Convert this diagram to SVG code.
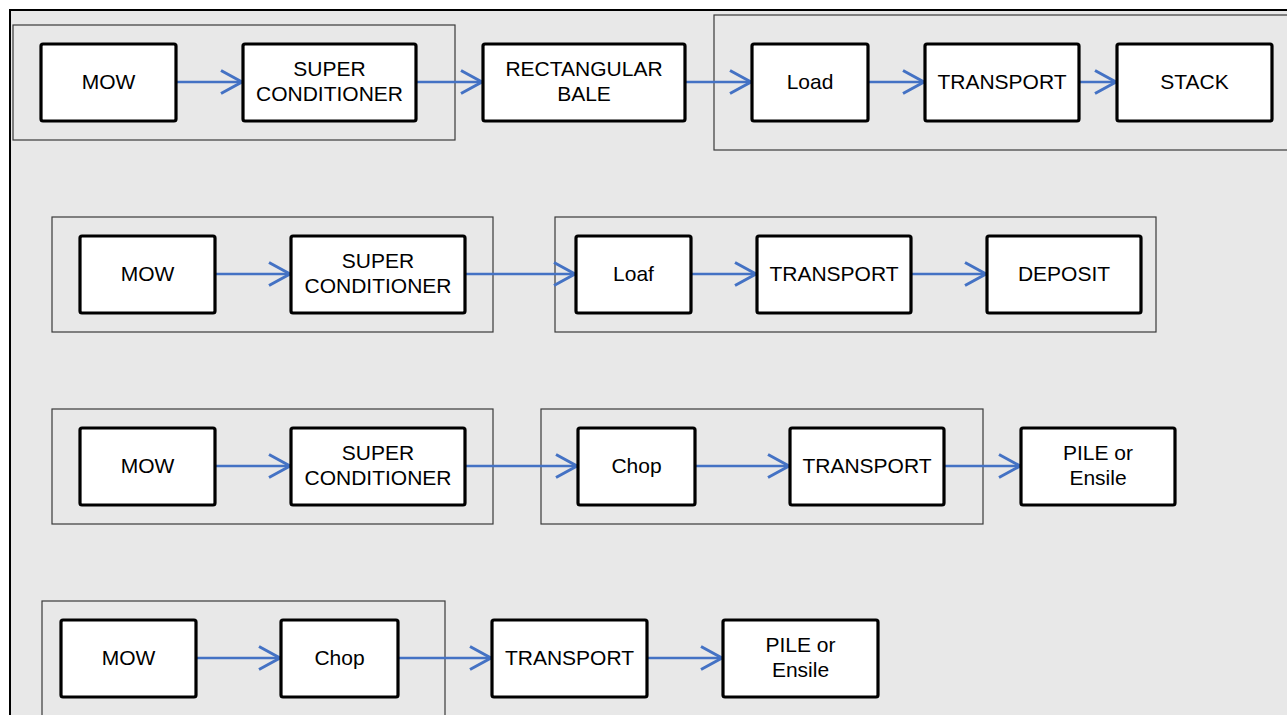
<svg xmlns="http://www.w3.org/2000/svg" width="1287" height="715" viewBox="0 0 1287 715">
<style>
.frame{fill:#e8e8e8;stroke:#000;stroke-width:2}
.grp{fill:none;stroke:#3a3a3a;stroke-width:1.2}
.node rect{fill:#fff;stroke:#000;stroke-width:3.2}
.node text{font-family:"Liberation Sans",Arial,sans-serif;font-size:21px;fill:#000;text-anchor:middle}
.conn{stroke:#4472c4;stroke-width:2.6;fill:none;marker-end:url(#arr)}
</style>
<defs>
<marker id="arr" markerUnits="userSpaceOnUse" markerWidth="26" markerHeight="28" refX="23" refY="13" orient="auto">
<path d="M1,1.5 L22,13 L1,24.5" fill="none" stroke="#4472c4" stroke-width="3"/>
</marker>
</defs>
<rect x="0" y="0" width="1287" height="715" fill="#fff"/>
<rect class="frame" x="10" y="10" width="1290" height="720"/>
<g id="groups">
<rect class="grp" x="13" y="25" width="442" height="115"/>
<rect class="grp" x="714" y="15" width="580" height="135"/>
<rect class="grp" x="52" y="217" width="441" height="115"/>
<rect class="grp" x="555" y="217" width="601" height="115"/>
<rect class="grp" x="52" y="409" width="441" height="115"/>
<rect class="grp" x="541" y="409" width="442" height="115"/>
<rect class="grp" x="42" y="601" width="403" height="130"/>
</g>
<g id="connectors">
<line class="conn" x1="176" y1="82" x2="243" y2="82"/>
<line class="conn" x1="416" y1="82" x2="483" y2="82"/>
<line class="conn" x1="685" y1="82" x2="752" y2="82"/>
<line class="conn" x1="868" y1="82" x2="925" y2="82"/>
<line class="conn" x1="1079" y1="82" x2="1117" y2="82"/>
<line class="conn" x1="215" y1="274" x2="291" y2="274"/>
<line class="conn" x1="465" y1="274" x2="576" y2="274"/>
<line class="conn" x1="691" y1="274" x2="757" y2="274"/>
<line class="conn" x1="911" y1="274" x2="987" y2="274"/>
<line class="conn" x1="215" y1="466" x2="291" y2="466"/>
<line class="conn" x1="465" y1="466" x2="578" y2="466"/>
<line class="conn" x1="695" y1="466" x2="790" y2="466"/>
<line class="conn" x1="944" y1="466" x2="1021" y2="466"/>
<line class="conn" x1="196" y1="658" x2="281" y2="658"/>
<line class="conn" x1="398" y1="658" x2="492" y2="658"/>
<line class="conn" x1="647" y1="658" x2="723" y2="658"/>
</g>
<g id="r1-mow" class="node"><rect x="41" y="44" width="135" height="77" rx="2"/><text x="108.5" y="89">MOW</text></g>
<g id="r1-super" class="node"><rect x="243" y="44" width="173" height="77" rx="2"/><text x="329.5" y="76">SUPER</text><text x="329.5" y="101">CONDITIONER</text></g>
<g id="r1-bale" class="node"><rect x="483" y="44" width="202" height="77" rx="2"/><text x="584" y="76">RECTANGULAR</text><text x="584" y="101">BALE</text></g>
<g id="r1-load" class="node"><rect x="752" y="44" width="116" height="77" rx="2"/><text x="810" y="89">Load</text></g>
<g id="r1-transport" class="node"><rect x="925" y="44" width="154" height="77" rx="2"/><text x="1002" y="89">TRANSPORT</text></g>
<g id="r1-stack" class="node"><rect x="1117" y="44" width="155" height="77" rx="2"/><text x="1194.5" y="89">STACK</text></g>
<g id="r2-mow" class="node"><rect x="80" y="236" width="135" height="77" rx="2"/><text x="147.5" y="281">MOW</text></g>
<g id="r2-super" class="node"><rect x="291" y="236" width="174" height="77" rx="2"/><text x="378" y="268">SUPER</text><text x="378" y="293">CONDITIONER</text></g>
<g id="r2-loaf" class="node"><rect x="576" y="236" width="115" height="77" rx="2"/><text x="633.5" y="281">Loaf</text></g>
<g id="r2-transport" class="node"><rect x="757" y="236" width="154" height="77" rx="2"/><text x="834" y="281">TRANSPORT</text></g>
<g id="r2-deposit" class="node"><rect x="987" y="236" width="154" height="77" rx="2"/><text x="1064" y="281">DEPOSIT</text></g>
<g id="r3-mow" class="node"><rect x="80" y="428" width="135" height="77" rx="2"/><text x="147.5" y="473">MOW</text></g>
<g id="r3-super" class="node"><rect x="291" y="428" width="174" height="77" rx="2"/><text x="378" y="460">SUPER</text><text x="378" y="485">CONDITIONER</text></g>
<g id="r3-chop" class="node"><rect x="578" y="428" width="117" height="77" rx="2"/><text x="636.5" y="473">Chop</text></g>
<g id="r3-transport" class="node"><rect x="790" y="428" width="154" height="77" rx="2"/><text x="867" y="473">TRANSPORT</text></g>
<g id="r3-pile" class="node"><rect x="1021" y="428" width="154" height="77" rx="2"/><text x="1098" y="460">PILE or</text><text x="1098" y="485">Ensile</text></g>
<g id="r4-mow" class="node"><rect x="61" y="620" width="135" height="77" rx="2"/><text x="128.5" y="665">MOW</text></g>
<g id="r4-chop" class="node"><rect x="281" y="620" width="117" height="77" rx="2"/><text x="339.5" y="665">Chop</text></g>
<g id="r4-transport" class="node"><rect x="492" y="620" width="155" height="77" rx="2"/><text x="569.5" y="665">TRANSPORT</text></g>
<g id="r4-pile" class="node"><rect x="723" y="620" width="155" height="77" rx="2"/><text x="800.5" y="652">PILE or</text><text x="800.5" y="677">Ensile</text></g>
</svg>
